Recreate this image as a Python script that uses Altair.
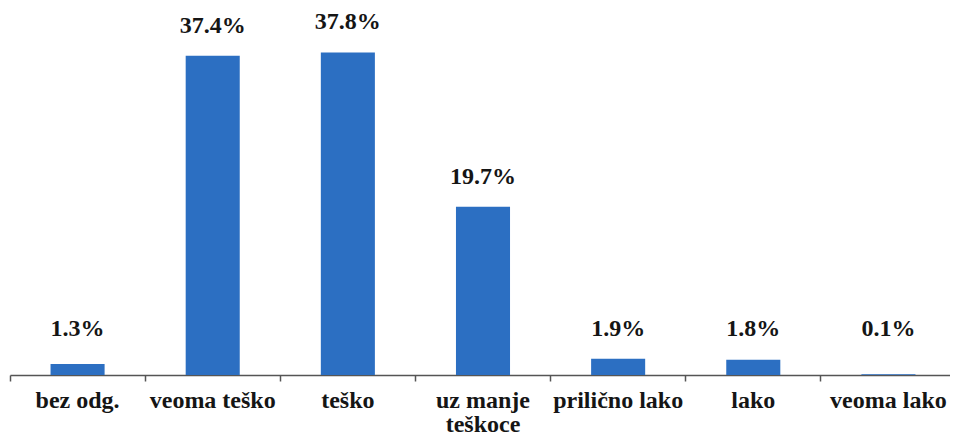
import altair as alt
import pandas as pd

categories = ["bez odg.", "veoma teško", "teško", "uz manje|teškoce", "prilično lako", "lako", "veoma lako"]
values = [1.3, 37.4, 37.8, 19.7, 1.9, 1.8, 0.1]
labels = ["1.3%", "37.4%", "37.8%", "19.7%", "1.9%", "1.8%", "0.1%"]

df = pd.DataFrame({"cat": categories, "value": values, "label": labels})

FONT = "Liberation Serif"
yscale = alt.Scale(domain=[0, 43], nice=False, zero=True)

x = alt.X(
    "cat:N",
    sort=categories,
    scale=alt.Scale(paddingInner=0, paddingOuter=0, range=[0, 946]),
    axis=alt.Axis(
        title=None,
        bandPosition=0,
        labelAngle=0,
        labelFont=FONT,
        labelFontSize=24,
        labelFontWeight="bold",
        labelColor="#151515",
        labelBaseline="alphabetic",
        labelPadding=26,
        labelLineHeight=24,
        labelExpr="split(datum.value, '|')",
        tickSize=6,
        tickColor="#555555",
        domainColor="#555555",
        domainWidth=1.5,
        tickWidth=1.5,
        labelFlush=False,
        labelOverlap=False,
    ),
)
y = alt.Y("value:Q", scale=yscale, axis=None)

bars = alt.Chart(df).mark_bar(width=alt.RelativeBandSize(0.4), color="#2C6FC2").encode(x=x, y=y)

text = (
    alt.Chart(df)
    .transform_calculate(ly="max(datum.value, 1.9)")
    .mark_text(font=FONT, fontSize=24, fontWeight="bold", color="#151515", baseline="alphabetic", dy=-23)
    .encode(x=alt.X("cat:N", sort=categories), y=alt.Y("ly:Q", scale=yscale, axis=None), text="label:N")
)

chart = (
    alt.layer(bars, text)
    .properties(width=940, height=367, autosize=alt.AutoSizeParams(type="none"),
                padding={"left": 2, "top": 0, "right": 0, "bottom": 58},
                background="white")
    .configure_view(strokeWidth=0, stroke=None)
)

chart.save("out.html", embed_options={"renderer": "svg", "actions": False})
